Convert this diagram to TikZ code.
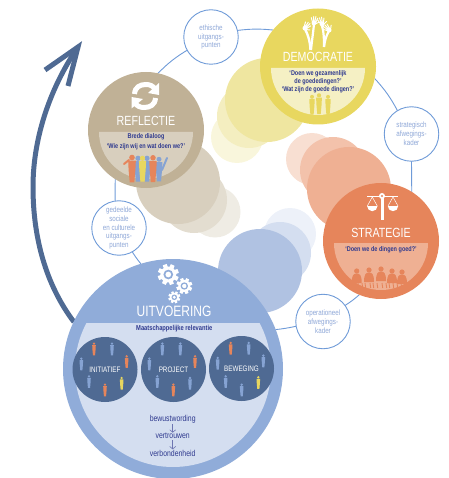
\documentclass[tikz,border=0pt]{standalone}
\usepackage{fontspec}
\setmainfont[FakeStretch=0.8]{Liberation Sans}
\usetikzlibrary{backgrounds,arrows.meta}
\definecolor{tanM}{HTML}{C0B196}\definecolor{tanA}{HTML}{D8CFBE}\definecolor{tanB}{HTML}{E3DDD0}\definecolor{tanC}{HTML}{EFECE4}
\definecolor{yelM}{HTML}{E8D75F}\definecolor{yelP}{HTML}{F5F0C4}\definecolor{yelA}{HTML}{EFE6A0}\definecolor{yelB}{HTML}{F4EEC0}\definecolor{yelC}{HTML}{F9F6DC}
\definecolor{orgM}{HTML}{E6855B}\definecolor{orgA}{HTML}{EFB093}\definecolor{orgB}{HTML}{F3C2AB}\definecolor{orgC}{HTML}{F8DFD2}
\definecolor{bluM}{HTML}{90ACD9}\definecolor{bluP}{HTML}{D4DEF0}\definecolor{bluA}{HTML}{B0C2E2}\definecolor{bluB}{HTML}{D4DEF0}\definecolor{bluC}{HTML}{EDF1F9}
\definecolor{dark}{HTML}{4F6A93}\definecolor{ringc}{HTML}{6F9BD8}\definecolor{navy}{HTML}{2F3A8F}\definecolor{smalltx}{HTML}{8FA8D8}\definecolor{ppl}{HTML}{86A3D3}
\tikzset{
 main/.style={circle,inner sep=0pt,outer sep=0pt,minimum size=116pt},
 fade/.style={circle,inner sep=0pt,outer sep=0pt},
 small/.style={circle,draw=ringc,line width=.9pt,fill=white,inner sep=0pt,outer sep=0pt,minimum size=54.5pt,text=smalltx,font=\fontsize{7.8}{8.9}\selectfont,align=center},
 team/.style={circle,fill=dark,inner sep=0pt,outer sep=0pt,minimum size=65pt,text=white,font=\fontsize{7.9}{9}\selectfont},
 title/.style={text=white,inner sep=0pt,font=\fontsize{13.3}{15}\selectfont},
 say/.style={text=navy,inner sep=0pt,font=\bfseries\fontsize{6.9}{8}\selectfont},
 flow/.style={text=navy,inner sep=0pt,font=\fontsize{8.6}{9}\selectfont},
 link/.style={draw=ringc,line width=.9pt},
 flowarrow/.style={navy!70!white,line width=.6pt,shorten <=1pt,shorten >=.3pt,-{Straight Barb[length=2.5pt,width=6pt]}},
 person/.pic={\fill (0,-5.1) circle (1.25);
   \fill (-1.7,-3.7) -- (1.7,-3.7) -- (1.5,.6) -- (1,6) -- (-1,6) -- (-1.5,.6) -- cycle;},
 gear/.pic={\fill[white] (0,0) circle (.76);
   \foreach \a in {0,45,...,315}{\fill[white,rotate=\a+20] (-.2,0) rectangle (.2,1);}
   \fill[bluM] (0,0) circle (.46); \fill[white] (0,0) circle (.27);},
}
\newcommand\mann[4]{\pic[color=#3,scale=#4] at (#1,#2) {person};}
\newcommand\handd[3]{\begin{scope}[shift={(#1,#2)},rotate=#3,white]
  \fill (0,0) ellipse (2.4 and 2.6);
  \draw[line width=.95pt,line cap=round] (-1.7,-1) -- (-3.5,-5) (-.6,-1.5) -- (-1.2,-6.6) (.6,-1.5) -- (1,-6.8) (1.7,-1) -- (3.1,-5.4) (2,.4) -- (5,-1.6);
  \end{scope}}
\begin{document}
\begin{tikzpicture}[x=1pt,y=-1pt]
\useasboundingbox (0,0) rectangle (448,478);
% arrow
\coordinate (astart) at (74,322); \coordinate (amid) at (33,187); \coordinate (atip) at (78,47);
\coordinate (barbl) at (45,70); \coordinate (barbr) at (68,86);
\draw[dark,line width=5pt] (astart) .. controls (46,285) and (33,238) .. (amid) .. controls (33,135) and (52,85) .. (atip);
\draw[dark,line width=5pt,miter limit=10] (barbl) -- (atip) -- (barbr);
% fading circles
\node[fade,fill=tanC,minimum size=51pt] (t3) at (215,212) {};
\node[fade,fill=tanB,minimum size=66pt] (t2) at (194,200) {};
\node[fade,fill=tanA,minimum size=84pt] (t1) at (178,182) {};
\node[fade,fill=yelC,minimum size=52pt] (y3) at (237,137) {};
\node[fade,fill=yelB,minimum size=64pt] (y2) at (249,116) {};
\node[fade,fill=yelA,minimum size=84pt] (y1) at (267,100) {};
\node[fade,fill=orgC,minimum size=52pt] (o3) at (312,159) {};
\node[fade,fill=orgB,minimum size=66pt] (o2) at (333,170) {};
\node[fade,fill=orgA,minimum size=84pt] (o1) at (349,189) {};
\node[fade,fill=bluC,minimum size=52pt] (b3) at (290,234) {};
\node[fade,fill=bluB,minimum size=62pt] (b2) at (280,253) {};
\node[fade,fill=bluA,minimum size=84pt] (b1) at (260,271) {};
% main circles
\node[main,fill=tanM] (refl) at (146,130) {};
\node[main,fill=yelM] (dem) at (318,66.5) {};
\node[main,fill=orgM] (strat) at (381,241) {};
\node[main,fill=bluM,minimum size=220pt] (uit) at (173,369) {};
% panels
\fill[tanA] (99,132) -- (193,132) arc (0:180:47);
\fill[yelP] (271,68) -- (365,68) arc (0:180:47);
\fill[orgA] (334,243) -- (428,243) arc (0:180:47);
\begin{scope}
 \clip (60,323) rectangle (290,478);
 \fill[bluP] (173,369) circle (98);
\end{scope}
% small circles
\node[small] (eth) at (211,37) {ethische\\uitgangs-\\punten};
\node[small] (kad) at (411.5,134) {strategisch\\afwegings-\\kader};
\node[small] (ope) at (323,321.5) {operationeel\\afwegings-\\kader};
\node[small] (ged) at (119,228) {gedeelde\\sociale\\en culturele\\uitgangs-\\punten};
% ring
\begin{pgfonlayer}{background}
\draw[link] (refl.78) to[bend left=7] (eth.209);
\draw[link] (eth.14) to[bend left=6] (dem.141);
\draw[link] (dem.-12) to[bend left=7] (kad.121);
\draw[link] (kad.-90) -- (strat.58);
\draw[link] (strat.248) to[bend left=4] (ope.36);
\draw[link] (ope.190) to[bend left=3] (uit.21);
\draw[link] (uit.107) to[bend left=3] (ged.-61);
\draw[link] (ged.98) to[bend left=1] (refl.238);
\end{pgfonlayer}
% titles and sayings
\node[title] (tr) at (146,120.7) {REFLECTIE};
\node[say] (sr1) at (146,136.7) {Brede dialoog};
\node[say] (sr2) at (146,146.7) {‘Wie zijn wij en wat doen we?’};
\node[title] (td) at (318,57) {DEMOCRATIE};
\node[say] (sd1) at (318,73.3) {‘Doen we gezamenlijk};
\node[say] (sd2) at (318,81.7) {de goededingen?’};
\node[say] (sd3) at (318,89.3) {‘Wat zijn de goede dingen?’};
\node[title] (ts) at (381,233.3) {STRATEGIE};
\node[say] (ss1) at (381,249.7) {‘Doen we de dingen goed?’};
\node[title,font=\fontsize{15}{17}\selectfont] (tu) at (174,311.7) {UITVOERING};
\node[say,font=\bfseries\fontsize{7.2}{8}\selectfont] (su) at (174.3,328.3) {Maatschappelijke relevantie};
% refresh icon
\begin{scope}[white]
 \draw[line width=5pt] (134.5,94) .. controls (135,87) and (140,84.5) .. (146,84.5) .. controls (150,84.5) and (153,86) .. (155,89);
 \fill (159,83) -- (159,95) -- (148,93) -- cycle;
 \draw[line width=5pt] (155.5,98) .. controls (155,105) and (150,107.5) .. (144,107.5) .. controls (140,107.5) and (137,106) .. (135,103);
 \fill (131.5,108.5) -- (131.5,97) -- (143,99) -- cycle;
\end{scope}
% hands
\draw[white,line width=2.4pt] (310.5,50) .. controls (310,42) and (309,37) .. (305,29);
\draw[white,line width=2.2pt] (311,50) .. controls (312,40) and (313,34) .. (314,24);
\draw[white,line width=2.2pt] (324,47) .. controls (324,40) and (324,32) .. (322,26);
\draw[white,line width=2.2pt] (324,47) .. controls (325,40) and (326,36) .. (329,31);
\handd{305}{28}{-40}\handd{314}{23}{-8}\handd{322}{24}{12}\handd{329}{30}{48}
% scale
\begin{scope}[white]
 \fill (380.5,196) rectangle (383.5,220);
 \draw[line width=1.4pt] (367,196.5) -- (397.5,196.5);
 \fill[white] (382,196) circle (3); \fill[orgM] (382,196) circle (1.2);
 \draw[line width=.5pt] (372.3,197) -- (367.3,206) (372.3,197) -- (377.3,206) (393,197) -- (388,206) (393,197) -- (398,206);
 \fill (377.5,206) arc (0:180:5.2) -- cycle;
 \fill (398.2,206) arc (0:180:5.2) -- cycle;
\end{scope}
% gears
\pic[scale=10.5] at (168.3,274.5) {gear};
\pic[scale=8] at (184.3,286) {gear};
\pic[scale=6] at (174.3,297.3) {gear};
% crowd in Reflectie
\draw[ppl,line width=2pt,line cap=round] (162,170) -- (167,158);
\draw[orgM,line width=2pt,line cap=round] (129,160) -- (124,164);
\mann{138}{169}{ppl}{2.1}\mann{147}{169}{ppl}{2.1}\mann{159}{169.5}{ppl}{2}
\mann{142.5}{169}{yelM}{2.1}\mann{153}{169}{orgM}{2.2}\mann{132}{169}{orgM}{2.25}
% people in Democratie
\mann{312}{105}{yelM}{1.6}\mann{319}{104}{yelM}{1.7}\mann{328}{105}{yelM}{1.6}
% assembly in Strategie
\begin{scope}[orgM]
 \foreach \x/\y in {356.7/271,369/270,381/269,392/271,402/272}{
  \fill (\x,\y) circle (2.6);
  \fill (\x-5,\y+12) .. controls (\x-5,\y+4) and (\x-3,\y+2.5) .. (\x,\y+2.5) .. controls (\x+3,\y+2.5) and (\x+5,\y+4) .. (\x+5,\y+12) -- cycle;
 }
\end{scope}
\foreach \x in {358,362,365,370,373,377,382,386,389,393,397,401}{\draw[orgM,line width=.9pt] (\x,283) -- (\x+.7,288);}
% teams
\node[team] (ini) at (105,369.5) {INITIATIEF};
\node[team] (pro) at (173.5,369.5) {PROJECT};
\node[team] (bew) at (241.5,368.5) {BEWEGING};
\foreach \x/\y/\c in {132/297/orgM,186/297/ppl,94/342/ppl,230/335/orgM,117/395/ppl,165/420/orgM,215/400/yelM,
 337/297/ppl,391/297/ppl,298/342/ppl,435/335/orgM,322/395/ppl,370/420/orgM,420/400/ppl,
 542/295/orgM,596/295/ppl,503/340/ppl,640/333/ppl,527/395/ppl,575/420/ppl,625/398/yelM}{
 \pic[color=\c,scale=1.05] at ({50+\x/3},{250+\y/3}) {person};
}
% flow
\node[flow] (f1) at (172.7,419) {bewustwording};
\node[flow] (f2) at (172.7,436) {vertrouwen};
\node[flow] (f3) at (172.7,453) {verbondenheid};
\draw[flowarrow] (f1) -- (f2);
\draw[flowarrow] (f2) -- (f3);
\end{tikzpicture}
\end{document}
